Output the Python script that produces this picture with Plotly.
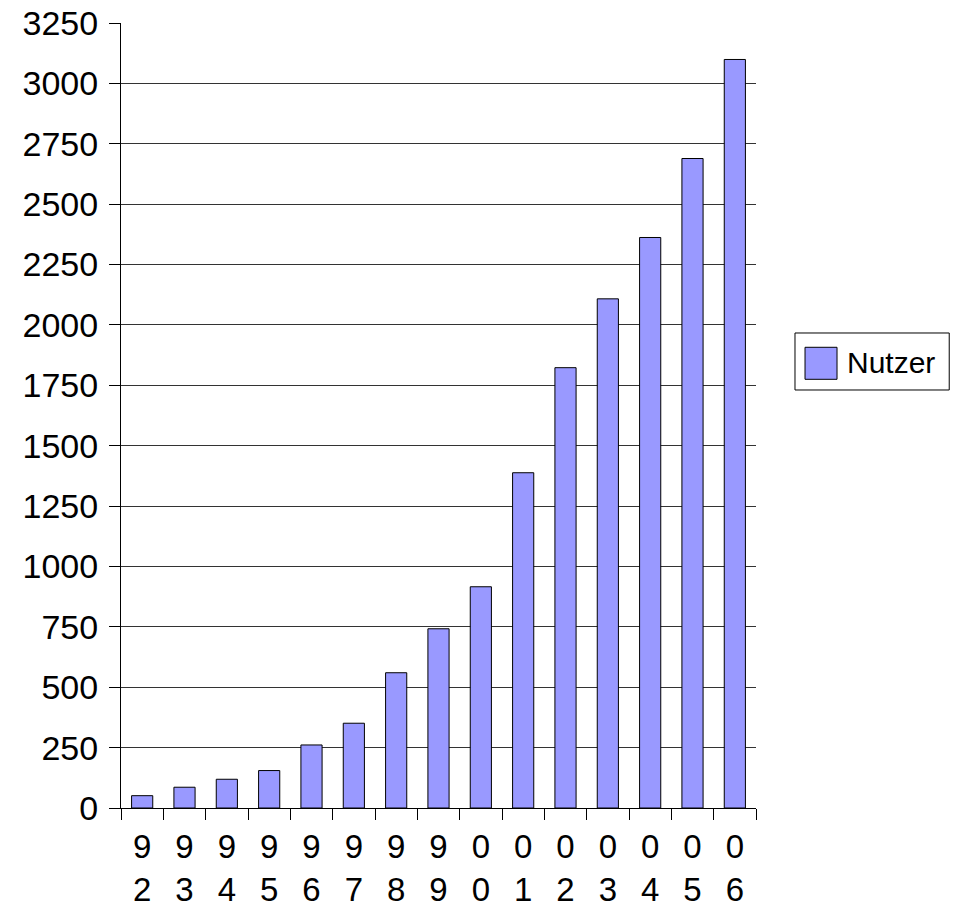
import plotly.graph_objects as go

years = ["92", "93", "94", "95", "96", "97", "98", "99", "00", "01", "02", "03", "04", "05", "06"]
nutzer = [51, 86, 119, 155, 261, 351, 560, 742, 916, 1388, 1823, 2108, 2362, 2689, 3099]
tick_labels = [y[0] + "<br>" + y[1] for y in years]
series_name = "Nutzer"
bar_color = "#9999ff"

fig = go.Figure()
fig.add_trace(go.Bar(
    x=years, y=nutzer, name=series_name,
    marker=dict(color=bar_color, line=dict(color="#000000", width=1)),
    showlegend=False,
))

# legend box drawn in paper coordinates
fig.add_shape(type="rect", xref="paper", yref="paper",
              x0=1.0614, x1=1.3043, y0=0.5325, y1=0.6051,
              line=dict(color="black", width=1), fillcolor="white")
fig.add_shape(type="rect", xref="paper", yref="paper",
              x0=1.0772, x1=1.1276, y0=0.5461, y1=0.5869,
              line=dict(color="black", width=1), fillcolor=bar_color)
fig.add_annotation(text=series_name, xref="paper", yref="paper",
                   x=1.1400, y=0.5675, xanchor="left", yanchor="middle",
                   showarrow=False, font=dict(size=30))

fig.update_layout(
    width=953, height=898,
    margin=dict(l=113, r=205, t=15, b=98, autoexpand=False),
    paper_bgcolor="white", plot_bgcolor="white",
    bargap=0.5,
    font=dict(family="Liberation Sans, Arial, sans-serif", size=34, color="black"),
    showlegend=False,
    xaxis=dict(
        type="category", automargin=False,
        tickvals=years, ticktext=tick_labels,
        showline=True, linecolor="black", linewidth=1,
        ticks="outside", ticklen=11, tickcolor="black",
        tickson="boundaries", showgrid=False,
        tickfont=dict(size=33), ticklabelstandoff=9,
        ticklabeloverflow="allow",
    ),
    yaxis=dict(
        range=[0, 3250], tickvals=list(range(0, 3251, 250)), automargin=False,
        showline=True, linecolor="black", linewidth=1,
        ticks="outside", ticklen=11, tickcolor="black",
        showgrid=True, gridcolor="#333333", gridwidth=1,
        zeroline=False, tickfont=dict(size=34), ticklabelstandoff=4,
        ticklabeloverflow="allow",
    ),
)

fig.write_html("out.html")
